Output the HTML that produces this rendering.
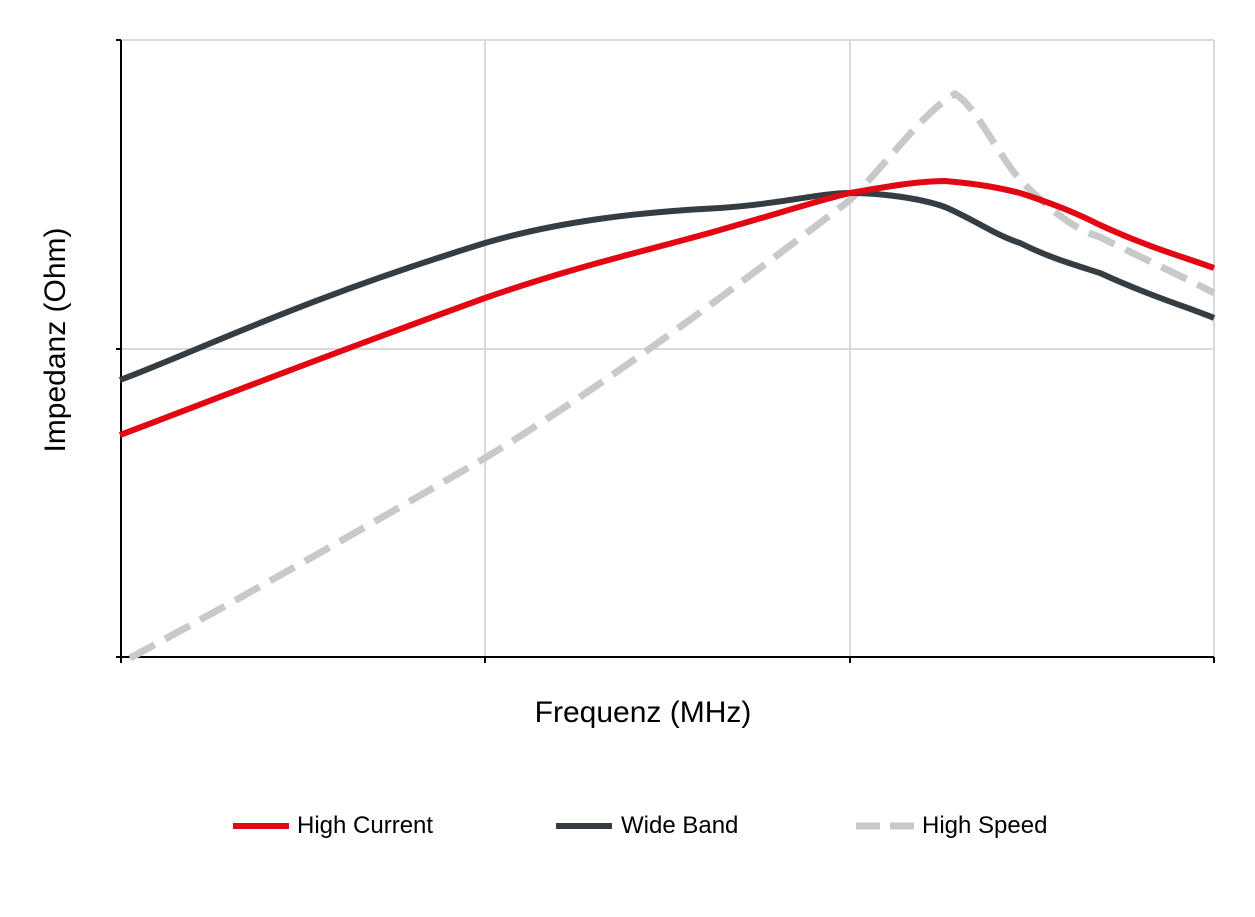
<!DOCTYPE html>
<html><head><meta charset="utf-8"><style>
html,body{margin:0;padding:0;background:#fff;}
svg{display:block;font-family:"Liberation Sans",sans-serif;}
</style></head><body>
<svg width="1255" height="917" viewBox="0 0 1255 917" xmlns="http://www.w3.org/2000/svg">
<g stroke="#d9d9d9" stroke-width="2" fill="none">
<line x1="121" y1="40" x2="1214" y2="40"/>
<line x1="121" y1="349" x2="1214" y2="349"/>
<line x1="485" y1="40" x2="485" y2="657"/>
<line x1="850" y1="40" x2="850" y2="657"/>
<line x1="1214" y1="40" x2="1214" y2="657"/>
</g>
<g stroke="#000" stroke-width="2" fill="none">
<line x1="121" y1="40" x2="121" y2="658"/>
<line x1="116" y1="657" x2="1214" y2="657"/>
<line x1="116" y1="40" x2="121" y2="40"/>
<line x1="116" y1="349" x2="121" y2="349"/>
<line x1="121" y1="657" x2="121" y2="663"/>
<line x1="485" y1="657" x2="485" y2="663"/>
<line x1="850" y1="657" x2="850" y2="663"/>
<line x1="1214" y1="657" x2="1214" y2="663"/>
</g>
<path d="M130,658 C210,615 300,565 485,458 C580,400 680,330 850,200 C890,160 925,110 955,94 C975,105 995,150 1020,180 C1050,210 1075,230 1100,237 C1150,262 1190,280 1214,293" fill="none" stroke="#c8c9c9" stroke-width="7" stroke-dasharray="28 12"/>
<path d="M120,380 C200,350 300,300 485,243 C560,221 640,212 720,208 C780,204 820,193 850,193 C880,193 920,198 945,207 C975,220 995,235 1020,243 C1050,258 1075,265 1100,273 C1150,296 1190,308 1214,318" fill="none" stroke="#353d43" stroke-width="6"/>
<path d="M120,435 C200,405 300,365 485,298 C580,265 650,250 720,230 C780,213 820,200 850,193 C890,186 920,181 945,181 C980,184 1000,188 1020,193 C1060,206 1080,215 1100,225 C1150,248 1190,259 1214,268" fill="none" stroke="#e30613" stroke-width="6"/>
<text x="65" y="340" font-size="30" text-anchor="middle" transform="rotate(-90 65 340)">Impedanz (Ohm)</text>
<text x="643" y="722" font-size="30" text-anchor="middle">Frequenz (MHz)</text>
<line x1="233" y1="826" x2="289" y2="826" stroke="#e30613" stroke-width="6"/>
<text x="297" y="833" font-size="24">High Current</text>
<line x1="556" y1="826" x2="612" y2="826" stroke="#353d43" stroke-width="6"/>
<text x="621" y="833" font-size="24">Wide Band</text>
<line x1="856" y1="826" x2="914" y2="826" stroke="#c8c9c9" stroke-width="7" stroke-dasharray="24 10"/>
<text x="922" y="833" font-size="24">High Speed</text>
</svg>
</body></html>
